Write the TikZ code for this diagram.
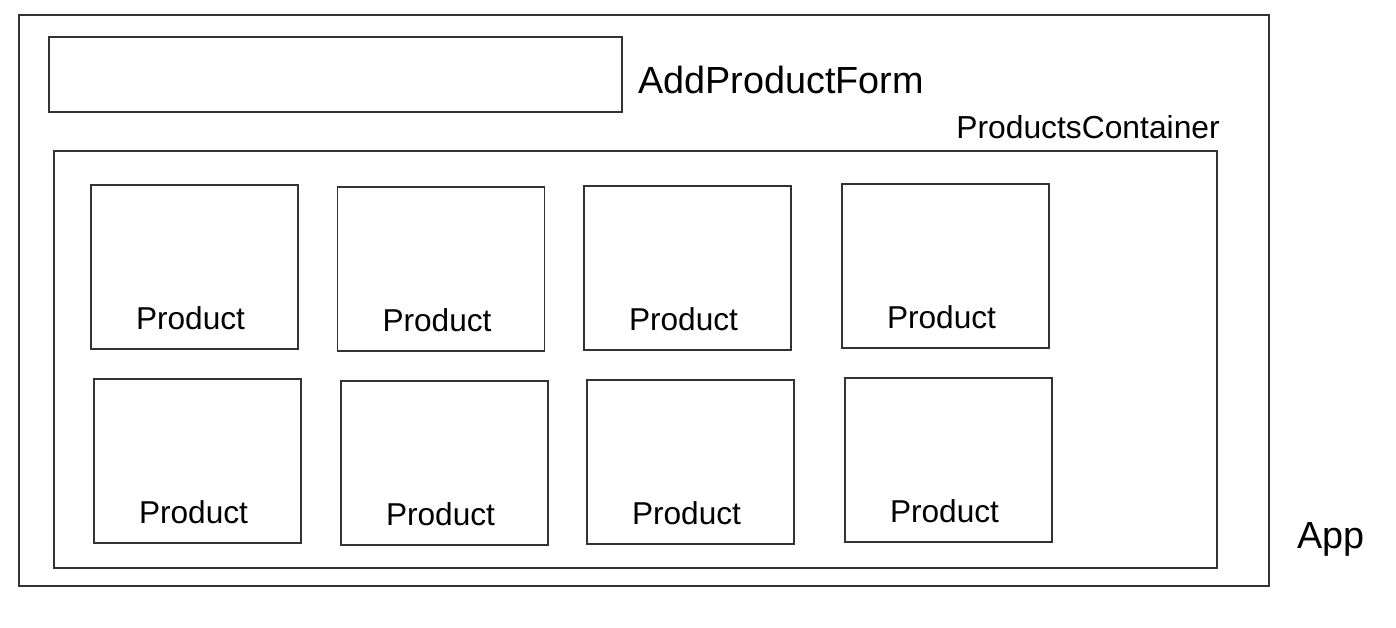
\documentclass[tikz,border=0pt]{standalone}
\usepackage{fontspec}
\setmainfont{Liberation Sans}
\usetikzlibrary{positioning}

\begin{document}
\begin{tikzpicture}[
  x=0.02cm, y=-0.02cm,
  box/.style={draw=black!80, line width=0.8pt, inner sep=0pt},
  app/.style={box, minimum width=25cm, minimum height=11.42cm},
  form/.style={box, minimum width=11.46cm, minimum height=1.5cm},
  container/.style={box, minimum width=23.26cm, minimum height=8.34cm},
  prod/.style={box, minimum width=4.14cm, minimum height=3.28cm},
  biglabel/.style={font=\fontsize{21.5}{25}\selectfont, inner sep=0pt},
  midlabel/.style={font=\fontsize{18.1}{21}\selectfont, inner sep=0pt},
  prodlabel/.style={font=\fontsize{18}{21}\selectfont, inner sep=0pt, anchor=base, above=0.4cm of #1.south, xshift=-0.08cm}
]
\useasboundingbox (0,0) rectangle (1396,627);

% outer App component
\node [app] (app) at (644,300.5) {};
\node [biglabel, anchor=base west] (applbl) at (1297,548) {App};

% form
\node [form] (form) at (335.5,74.5) {};
\node [biglabel, anchor=base west] (formlbl) at (638,93) {AddProductForm};

% container
\node [container] (cont) at (635.5,359.5) {};
\node [midlabel, anchor=base west] (contlbl) at (956,138) {ProductsContainer};

% products, first row
\node [prod] (p1) at (194.5,267) {};
\node [prod] (p2) at (441,269) {};
\node [prod] (p3) at (687.5,268) {};
\node [prod] (p4) at (945.5,266) {};
% products, second row
\node [prod] (p5) at (197.5,461) {};
\node [prod] (p6) at (444.5,463) {};
\node [prod] (p7) at (690.5,462) {};
\node [prod] (p8) at (948.5,460) {};

\node [prodlabel=p1] {Product};
\node [prodlabel=p2] {Product};
\node [prodlabel=p3] {Product};
\node [prodlabel=p4] {Product};
\node [prodlabel=p5] {Product};
\node [prodlabel=p6] {Product};
\node [prodlabel=p7] {Product};
\node [prodlabel=p8] {Product};
\end{tikzpicture}
\end{document}
